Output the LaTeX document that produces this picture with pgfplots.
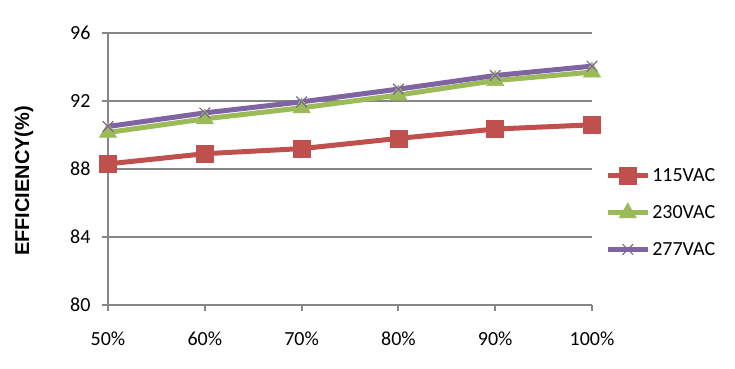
\documentclass[border=0pt]{standalone}
\usepackage{pgfplots}
\pgfplotsset{compat=1.18}
\usepackage{fontspec}
\setmainfont{Carlito}
\newfontfamily\arialb{Liberation Sans}
\definecolor{cred}{HTML}{C0504D}
\definecolor{cgreen}{HTML}{9BBB59}
\definecolor{cpurple}{HTML}{8064A2}
\definecolor{cgrid}{HTML}{868686}
\begin{document}
\begin{tikzpicture}
\useasboundingbox (-108pt,-63pt) rectangle (627pt,305pt);
\begin{axis}[
  at={(0pt,0pt)}, anchor=south west,
  scale only axis, width=484pt, height=272pt,
  xmin=0, xmax=5, ymin=80, ymax=96,
  xtick={0,1,2,3,4,5},
  xticklabels={50\%,60\%,70\%,80\%,90\%,100\%},
  ytick={80,84,88,92,96},
  axis x line*=bottom, axis y line*=left,
  axis line style={cgrid, line width=2pt, -},
  ymajorgrids, grid style={cgrid, line width=2pt},
  tick align=outside, major tick length=6pt,
  tick style={cgrid, line width=2pt},
  tick label style={font=\fontsize{20}{24}\selectfont, text=black},
  /pgf/number format/assume math mode=true,
  xticklabel style={yshift=-17pt},
  yticklabel style={xshift=-8pt},
  ylabel={\arialb\bfseries EFFICIENCY(\%)},
  ylabel style={font=\fontsize{20}{24}\selectfont, at={(axis description cs:0,0.456)}, anchor=center, yshift=84pt, xshift=0pt},
  clip=false,
  legend style={draw=none, fill=none, at={(1.027,0.34)}, anchor=west,
    font=\fontsize{20}{24}\selectfont, row sep=18pt, inner sep=0pt,
    legend cell align=left},
  legend image code/.code={\draw[mark repeat=2,mark phase=2] plot coordinates {(0pt,0pt)(20pt,0pt)(40pt,0pt)};},
]
\addplot[cred, line width=5pt, mark=square*, mark size=8.5pt, mark options={solid, line width=0.5pt}]
 coordinates {(0,88.3)(1,88.9)(2,89.2)(3,89.8)(4,90.35)(5,90.6)};
\addlegendentry{115VAC}
\addplot[cgreen, line width=5pt, mark=triangle*, mark size=10pt, mark options={solid, line width=0.5pt}]
 coordinates {(0,90.15)(1,90.95)(2,91.6)(3,92.35)(4,93.2)(5,93.7)};
\addlegendentry{230VAC}
\addplot[cpurple, line width=5pt, mark=x, mark size=7.5pt, mark options={solid, line width=1.2pt}]
 coordinates {(0,90.5)(1,91.3)(2,91.95)(3,92.7)(4,93.5)(5,94.05)};
\addlegendentry{277VAC}
\end{axis}
\end{tikzpicture}
\end{document}
